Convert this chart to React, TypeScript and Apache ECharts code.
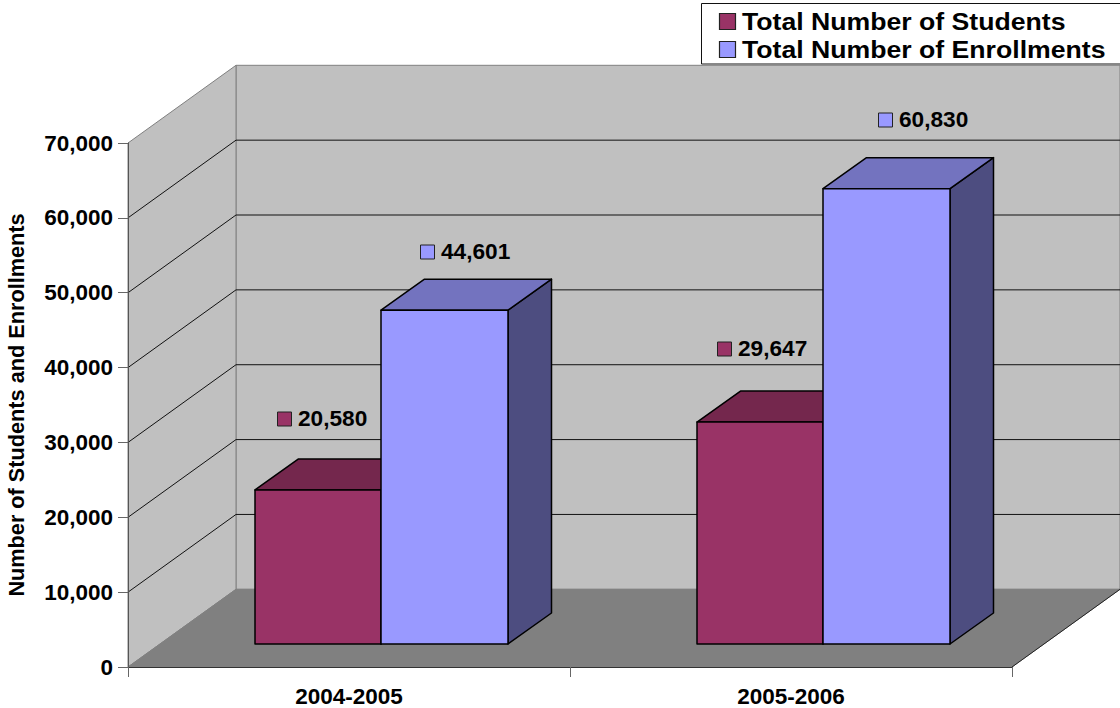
import React, { useEffect, useRef } from "react";
import * as echarts from "echarts";

const categories = ["2004-2005", "2005-2006"];
const studentNames = "Total Number of Students";
const enrollmentNames = "Total Number of Enrollments";
const students = [20580, 29647];
const enrollments = [44601, 60830];
const yTicks = [10000, 20000, 30000, 40000, 50000, 60000];
const yAxisTitle = "Number of Students and Enrollments";

const FONT = '"Liberation Sans", Arial, sans-serif';
const DEPTH_X = 108;
const DEPTH_Y = 77.7;
const BAR_SHIFT_X = 32;
const BAR_SHIFT_Y = 23;
const BAR_DEPTH_X = 43.5;
const BAR_DEPTH_Y = 31;
const BAR_RATIO = 0.2862;
const LABEL_NUDGE = [
  [[22, 71], [20, 73]],
  [[38.5, 58], [55, 69]],
];

const palette = [
  { front: "#993366", top: "#74274D", side: "#4D1A33" },
  { front: "#9999FF", top: "#7373BF", side: "#4D4D80" },
];

function barRenderer(seriesIdx: number) {
  return (params: any, api: any) => {
    const cat = api.value(0);
    const val = api.value(1);
    const c = palette[seriesIdx];
    const [cx, y0] = api.coord([cat, 0]);
    const [, yv] = api.coord([cat, val]);
    const w = Math.round(api.size([1, 0])[0] * BAR_RATIO * 2) / 2;
    const l = Math.round(cx + BAR_SHIFT_X - w + seriesIdx * w);
    const r = Math.round(cx + BAR_SHIFT_X + seriesIdx * w);
    const b = y0 - BAR_SHIFT_Y;
    const t = yv - BAR_SHIFT_Y;
    const dx = BAR_DEPTH_X;
    const dy = BAR_DEPTH_Y;
    const edge = { stroke: "#000", lineWidth: 1.5, lineJoin: "round" };
    const [nx, ny] = LABEL_NUDGE[seriesIdx][cat];
    const sx = Math.round(l + nx);
    const sy = Math.round(t - ny);
    return {
      type: "group",
      children: [
        { type: "polygon", shape: { points: [[r, t], [r + dx, t - dy], [r + dx, b - dy], [r, b]] }, style: { fill: c.side, ...edge } },
        { type: "polygon", shape: { points: [[l, t], [l + dx, t - dy], [r + dx, t - dy], [r, t]] }, style: { fill: c.top, ...edge } },
        { type: "polygon", shape: { points: [[l, t], [r, t], [r, b], [l, b]] }, style: { fill: c.front, ...edge } },
        { type: "rect", shape: { x: sx + 0.5, y: sy - 7, width: 14, height: 14 }, style: { fill: c.front, stroke: "#222", lineWidth: 1 } },
        {
          type: "text",
          x: sx + 21,
          y: sy,
          scaleX: 1.03,
          style: {
            x: 0,
            y: 0,
            text: Number(val).toLocaleString("en-US"),
            font: `bold 22px ${FONT}`,
            fill: "#000",
            align: "left",
            verticalAlign: "middle",
          },
        },
      ],
    };
  };
}

const legendRow = (i: number, name: string) => ({
  type: "group",
  children: [
    { type: "rect", shape: { x: 719.5, y: 13.5 + i * 28, width: 16, height: 16 }, style: { fill: palette[i].front, stroke: "#222", lineWidth: 1.2 } },
    {
      type: "text",
      x: 742,
      y: 21.5 + i * 28,
      scaleX: 1.11,
      style: { x: 0, y: 0, text: name, font: `bold 24px ${FONT}`, fill: "#000", align: "left", verticalAlign: "middle" },
    },
  ],
});

export default function App() {
  const ref = useRef<HTMLDivElement>(null);
  useEffect(() => {
    document.body.style.margin = "0";
    const chart = echarts.init(ref.current!, null, { renderer: "svg" });
    chart.setOption({
      animation: false,
      backgroundColor: "#fff",
      grid: { left: 128, top: 143, width: 884, height: 524, outerBoundsMode: "none" },
      graphic: [
        {
          type: "group",
          z: 20,
          children: [
            { type: "rect", shape: { x: 701.5, y: 3.5, width: 440, height: 60.5 }, style: { fill: "#fff", stroke: "#111", lineWidth: 1 } },
            legendRow(0, studentNames),
            legendRow(1, enrollmentNames),
          ],
        },
      ],
      xAxis: {
        type: "category",
        data: categories,
        z: 10,
        boundaryGap: true,
        axisLine: { lineStyle: { color: "#333", width: 1 } },
        axisTick: { show: true, length: 10, lineStyle: { color: "#666", width: 1 } },
        axisLabel: { fontFamily: FONT, fontWeight: "bold", fontSize: 22.5, color: "#000", margin: 18 },
        splitLine: { show: false },
      },
      yAxis: {
        type: "value",
        min: 0,
        max: 70000,
        interval: 10000,
        z: 10,
        name: yAxisTitle,
        nameLocation: "middle",
        nameRotate: 90,
        nameGap: 112,
        nameTextStyle: { fontFamily: FONT, fontWeight: "bold", fontSize: 21.7, color: "#000", verticalAlign: "middle" },
        axisLine: { show: true, lineStyle: { color: "#555", width: 1 } },
        axisTick: { show: true, length: 10, lineStyle: { color: "#666", width: 1 } },
        axisLabel: {
          fontFamily: FONT,
          fontWeight: "bold",
          fontSize: 22.5,
          color: "#000",
          margin: 15,
          formatter: (v: number) => v.toLocaleString("en-US"),
        },
        splitLine: { show: false },
      },
      series: [
        {
          type: "custom",
          name: "walls",
          coordinateSystem: "cartesian2d",
          silent: true,
          z: 1,
          data: [[0, 0]],
          encode: { x: 0, y: 1 },
          renderItem: (params: any, api: any) => {
            const g = params.coordSys;
            const x0 = g.x;
            const x1 = g.x + g.width;
            const yT = g.y;
            const yB = g.y + g.height;
            const wall = { fill: "#C0C0C0", stroke: "#808080", lineWidth: 1 };
            return {
              type: "group",
              children: [
                { type: "polygon", shape: { points: [[x0 + DEPTH_X, yT - DEPTH_Y], [x1 + DEPTH_X, yT - DEPTH_Y], [x1 + DEPTH_X, yB - DEPTH_Y], [x0 + DEPTH_X, yB - DEPTH_Y]] }, style: wall },
                { type: "polygon", shape: { points: [[x0, yT], [x0 + DEPTH_X, yT - DEPTH_Y], [x0 + DEPTH_X, yB - DEPTH_Y], [x0, yB]] }, style: wall },
                { type: "polygon", shape: { points: [[x0, yB], [x1, yB], [x1 + DEPTH_X, yB - DEPTH_Y], [x0 + DEPTH_X, yB - DEPTH_Y]] }, style: { fill: "#808080", stroke: "#808080", lineWidth: 1 } },
                { type: "line", shape: { x1, y1: yB, x2: x1 + DEPTH_X, y2: yB - DEPTH_Y }, style: { stroke: "#222", lineWidth: 1 } },
              ],
            };
          },
        },
        {
          type: "custom",
          name: "gridlines",
          coordinateSystem: "cartesian2d",
          silent: true,
          z: 1,
          data: yTicks.map((v) => [0, v]),
          encode: { x: 0, y: 1 },
          renderItem: (params: any, api: any) => {
            const g = params.coordSys;
            const y = api.coord([0, api.value(1)])[1];
            return {
              type: "polyline",
              shape: {
                points: [
                  [g.x, y],
                  [g.x + DEPTH_X, y - DEPTH_Y],
                  [g.x + g.width + DEPTH_X, y - DEPTH_Y],
                ],
              },
              style: { fill: "none", stroke: "#111", lineWidth: 1 },
            };
          },
        },
        {
          type: "custom",
          name: studentNames,
          coordinateSystem: "cartesian2d",
          z: 3,
          itemStyle: { color: palette[0].front },
          data: students.map((v, i) => [i, v]),
          encode: { x: 0, y: 1 },
          renderItem: barRenderer(0),
        },
        {
          type: "custom",
          name: enrollmentNames,
          coordinateSystem: "cartesian2d",
          z: 4,
          itemStyle: { color: palette[1].front },
          data: enrollments.map((v, i) => [i, v]),
          encode: { x: 0, y: 1 },
          renderItem: barRenderer(1),
        },
      ],
    });
    return () => chart.dispose();
  }, []);
  return <div ref={ref} style={{ width: 1120, height: 708 }} />;
}
